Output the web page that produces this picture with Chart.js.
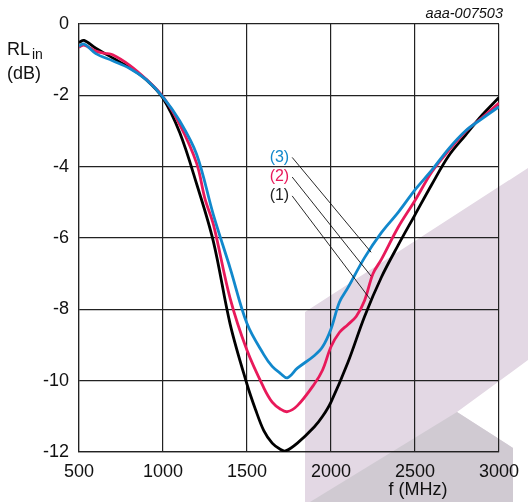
<!DOCTYPE html>
<html>
<head>
<meta charset="utf-8">
<script src="https://cdn.jsdelivr.net/npm/chart.js@4"></script>
<style>
    html, body { margin: 0; padding: 0; background: #fff; }
    #wrap { position: relative; width: 528px; height: 502px; overflow: hidden; }
    #wm { position: absolute; left: 0; top: 0; }
    #chart { position: absolute; left: 0; top: 0; }
</style>
</head>
<body>
<div id="wrap">
    <!-- watermark behind the chart -->
    <svg id="wm" width="528" height="502">
        <polygon points="305,312 528,168 528,360 457,412 513,448 513,502 305,502" fill="#e3d8e4"/>
        <polygon points="457,412 513,448 513,502 310,502" fill="#d0cad2"/>
    </svg>
    <canvas id="chart" width="528" height="502"></canvas>
</div>
<script>
// frequency (MHz)
const freq1 = [500, 530, 600, 700, 800, 900, 1000, 1100, 1200, 1300, 1400, 1500, 1550, 1600, 1650, 1700, 1730, 1800, 1900, 1950, 2000, 2100, 2200, 2300, 2400, 2500, 2600, 2700, 2800, 2900, 3000];
const rl1   = [-0.52, -0.46, -0.68, -0.95, -1.22, -1.56, -2.08, -3.05, -4.48, -6.1, -8.42, -10.1, -10.8, -11.4, -11.75, -11.93, -11.97, -11.75, -11.3, -11.0, -10.6, -9.5, -8.2, -7.1, -6.2, -5.35, -4.5, -3.7, -3.12, -2.55, -2.06];

const freq2 = [500, 530, 600, 650, 700, 800, 900, 1000, 1100, 1200, 1250, 1300, 1400, 1500, 1600, 1650, 1700, 1740, 1800, 1900, 1950, 2000, 2050, 2100, 2150, 2200, 2250, 2300, 2400, 2500, 2600, 2700, 2800, 2900, 3000];
const rl2   = [-0.65, -0.59, -0.76, -0.82, -0.86, -1.15, -1.55, -2.04, -2.82, -3.9, -4.9, -5.62, -7.7, -9.15, -10.2, -10.6, -10.8, -10.87, -10.7, -10.1, -9.7, -9.05, -8.65, -8.43, -8.2, -7.75, -7.0, -6.6, -5.7, -4.95, -4.15, -3.55, -3.02, -2.62, -2.22];

const freq3 = [500, 530, 600, 700, 800, 900, 1000, 1100, 1200, 1300, 1400, 1500, 1600, 1650, 1700, 1740, 1800, 1900, 1950, 2000, 2050, 2100, 2200, 2300, 2400, 2500, 2600, 2700, 2800, 2900, 3000];
const rl3   = [-0.62, -0.56, -0.83, -1.03, -1.24, -1.56, -2.05, -2.72, -3.65, -5.35, -6.85, -8.4, -9.27, -9.6, -9.8, -9.92, -9.65, -9.3, -9.05, -8.55, -7.8, -7.4, -6.55, -5.85, -5.28, -4.65, -4.1, -3.5, -3.0, -2.65, -2.32];

const xTicks = [500, 1000, 1500, 2000, 2500, 3000];
const yTicks = [0, -2, -4, -6, -8, -10, -12];

// curve labels: text, label anchor (f, dB), leader end (f, dB)
const curveLabels = ['(3)', '(2)', '(1)'];
const labelPos = [[1769, -3.74], [1769, -4.29], [1769, -4.82]];
const leaderEnd = [[2239, -6.4], [2239, -7.07], [2239, -7.75]];

const BLUE = '#1188cc';
const RED = '#e8195a';
const BLACK = '#000000';
const labelColors = [BLUE, RED, '#222'];

const FONT = '"Liberation Sans", Arial, sans-serif';

function toPoints(xs, ys) {
    return xs.map((x, i) => ({ x: x, y: ys[i] }));
}

const textPlugin = {
    id: 'texts',
    afterDatasetsDraw(chart) {
        const ctx = chart.ctx;
        const xs = chart.scales.x, ys = chart.scales.y;
        ctx.save();

        // leader lines + labels
        ctx.strokeStyle = '#111';
        ctx.lineWidth = 0.9;
        ctx.font = '16px ' + FONT;
        ctx.textAlign = 'right';
        ctx.textBaseline = 'middle';
        curveLabels.forEach((t, i) => {
            const x0 = xs.getPixelForValue(labelPos[i][0]);
            const y0 = ys.getPixelForValue(labelPos[i][1]);
            const x1 = xs.getPixelForValue(leaderEnd[i][0]);
            const y1 = ys.getPixelForValue(leaderEnd[i][1]);
            ctx.beginPath();
            ctx.moveTo(x0, y0);
            ctx.lineTo(x1, y1);
            ctx.stroke();
            ctx.fillStyle = labelColors[i];
            ctx.fillText(t, x0 - 3, y0);
        });

        // axis titles
        ctx.fillStyle = '#111';
        ctx.textAlign = 'left';
        ctx.textBaseline = 'alphabetic';
        ctx.font = '18px ' + FONT;
        ctx.fillText('RL', 7, 55);
        ctx.font = '14px ' + FONT;
        ctx.fillText('in', 32, 59);
        ctx.font = '18px ' + FONT;
        ctx.fillText('(dB)', 7, 79);

        ctx.textAlign = 'center';
        ctx.fillText('f (MHz)', 418, 495);

        ctx.font = 'italic 14.5px ' + FONT;
        ctx.textAlign = 'right';
        ctx.fillText('aaa-007503', 503, 18);
        ctx.restore();
    }
};

new Chart(document.getElementById('chart'), {
    type: 'line',
    data: {
        datasets: [
            { label: '(3)', data: toPoints(freq3, rl3), borderColor: BLUE, order: 1 },
            { label: '(2)', data: toPoints(freq2, rl2), borderColor: RED, order: 2 },
            { label: '(1)', data: toPoints(freq1, rl1), borderColor: BLACK, order: 3 }
        ]
    },
    options: {
        responsive: false,
        animation: false,
        events: [],
        elements: {
            line: { borderWidth: 2.8, tension: 0.35, fill: false },
            point: { radius: 0 }
        },
        layout: { padding: { top: 24, right: 26, left: 0, bottom: 0 } },
        plugins: {
            legend: { display: false },
            tooltip: { enabled: false }
        },
        scales: {
            x: {
                type: 'linear',
                min: 500,
                max: 3000,
                afterBuildTicks: (s) => { s.ticks = xTicks.map(v => ({ value: v })); },
                afterFit: (s) => { s.height = 50; },
                grid: { color: '#222', lineWidth: 1.2, drawTicks: false },
                border: { color: '#222', width: 1.2 },
                ticks: {
                    color: '#111',
                    font: { family: FONT, size: 18 },
                    padding: 9,
                    maxRotation: 0,
                    autoSkip: false,
                    callback: (v) => String(v)
                }
            },
            y: {
                type: 'linear',
                min: -12,
                max: 0,
                afterBuildTicks: (s) => { s.ticks = yTicks.map(v => ({ value: v })); },
                afterFit: (s) => { s.width = 79; },
                grid: { color: '#222', lineWidth: 1.2, drawTicks: false },
                border: { color: '#222', width: 1.2 },
                ticks: {
                    color: '#111',
                    font: { family: FONT, size: 18 },
                    padding: 10,
                    autoSkip: false,
                    callback: (v) => String(v)
                }
            }
        }
    },
    plugins: [textPlugin]
});
</script>
</body>
</html>
